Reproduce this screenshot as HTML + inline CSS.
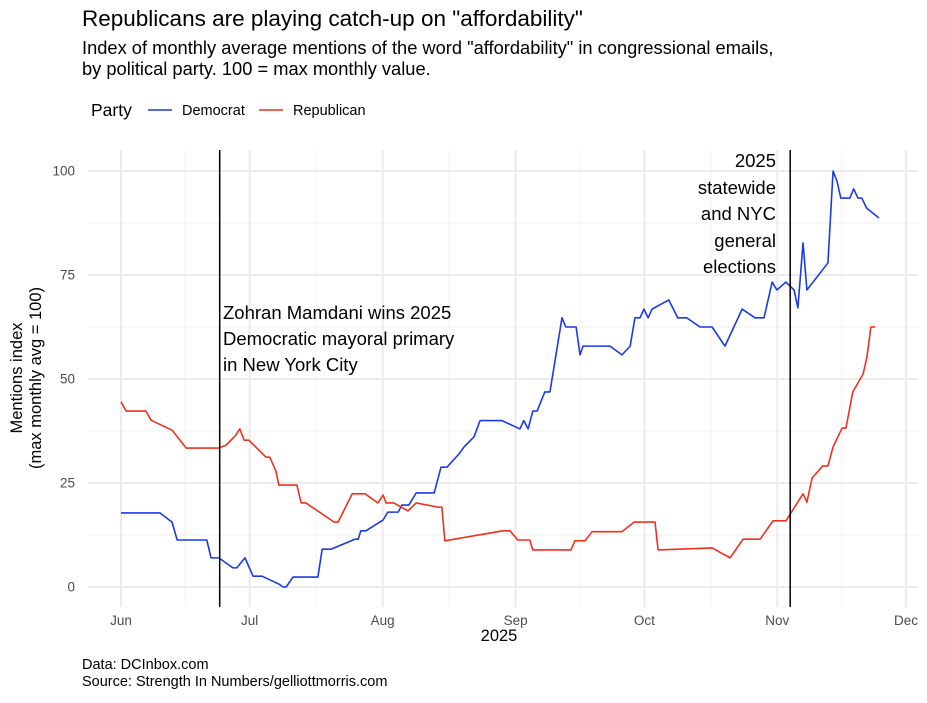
<!DOCTYPE html>
<html><head><meta charset="utf-8"><style>
body{margin:0;background:#fff;font-family:"Liberation Sans",sans-serif;}
</style></head><body>
<svg width="927" height="698" xmlns="http://www.w3.org/2000/svg" font-family="Liberation Sans, sans-serif">
<text x="82" y="26" font-size="22.5" fill="#000">Republicans are playing catch-up on "affordability"</text>
<text x="82" y="54" font-size="18.3" fill="#000">Index of monthly average mentions of the word "affordability" in congressional emails,</text>
<text x="82" y="75" font-size="18.3" fill="#000">by political party. 100 = max monthly value.</text>
<g>
<text x="91" y="116" font-size="17.5">Party</text>
<line x1="148" y1="110" x2="172" y2="110" stroke="#1a3ae8" stroke-width="1.5"/>
<text x="182" y="115" font-size="14.5">Democrat</text>
<line x1="259" y1="110" x2="283" y2="110" stroke="#f0301e" stroke-width="1.5"/>
<text x="293" y="115" font-size="14.5">Republican</text>
</g>
<g id="grid"></g>
<g id="ticks"></g>
<g id="series"></g>
<line x1="219.7" y1="150" x2="219.7" y2="607" stroke="#000" stroke-width="1.5"/>
<line x1="790.2" y1="150" x2="790.2" y2="607" stroke="#000" stroke-width="1.5"/>
<g font-size="18.5">
<text x="223" y="319">Zohran Mamdani wins 2025</text>
<text x="223" y="345">Democratic mayoral primary</text>
<text x="223" y="371">in New York City</text>
</g>
<g font-size="18.5" text-anchor="end">
<text x="776" y="167">2025</text>
<text x="776" y="194">statewide</text>
<text x="776" y="220">and NYC</text>
<text x="776" y="247">general</text>
<text x="776" y="273">elections</text>
</g>
<text x="499" y="641" font-size="16.5" text-anchor="middle">2025</text>
<text transform="translate(22,378) rotate(-90)" font-size="16.5" text-anchor="middle">Mentions index</text>
<text transform="translate(41,378) rotate(-90)" font-size="16.5" text-anchor="middle">(max monthly avg = 100)</text>
<text x="82" y="669" font-size="14.5">Data: DCInbox.com</text>
<text x="82" y="686" font-size="14.5">Source: Strength In Numbers/gelliottmorris.com</text>
</svg>
<script>
const monthLabels=["Jun","Jul","Aug","Sep","Oct","Nov","Dec"];
const monthDays=[0,30,61,92,122,153,183];
const yTicks=[0,25,50,75,100];
const demDays=[0,9.1,11.9,13.1,20.0,21.0,22.8,26.1,27.0,28.9,30.8,32.9,36.8,37.8,38.5,40.1,45.9,46.9,49.0,54.6,55.3,55.9,57.1,61.1,62.2,64.6,65.5,67.1,68.8,73.0,74.6,76.0,78.8,80.0,82.3,83.7,88.8,93.0,93.9,94.9,96.0,97.0,98.8,100.0,102.8,103.7,106.1,107.0,107.7,114.0,116.8,118.7,119.8,121.0,121.9,122.9,123.8,127.7,129.8,131.9,135.0,137.8,140.8,144.8,147.8,149.9,151.8,152.9,155.0,156.9,157.8,159.0,159.9,164.8,166.0,166.9,167.8,169.9,170.8,171.8,172.7,173.8,176.7];
const demVals=[17.8,17.8,15.6,11.3,11.3,7.0,7.0,4.6,4.6,7.0,2.6,2.6,0.7,0,0,2.4,2.4,9.1,9.1,11.5,11.5,13.5,13.5,16.1,18.0,18.0,19.7,19.7,22.6,22.6,28.8,28.8,32.0,33.7,36.1,40.0,40.0,38.0,40.0,38.0,42.3,42.3,46.9,46.9,64.7,62.5,62.5,55.8,57.9,57.9,55.8,57.9,64.7,64.7,66.8,64.7,66.8,69.0,64.7,64.7,62.5,62.5,57.9,66.8,64.7,64.7,73.3,71.4,73.3,71.4,67.1,82.7,71.4,77.9,100,97.6,93.5,93.5,95.7,93.5,93.5,91.1,88.7];
const repDays=[0,1.2,5.8,7.0,11.9,15.2,22.8,24.5,26.6,27.7,28.7,29.8,33.8,34.7,36.1,36.8,41.0,42.0,43.1,49.7,50.6,53.9,56.9,59.9,61.1,61.8,63.6,66.9,68.8,73.9,74.8,75.5,89.0,90.7,92.5,95.3,96.0,104.9,105.8,108.2,109.8,116.8,119.6,124.5,125.2,137.8,142.0,145.0,149.0,152.0,155.0,159.0,159.9,161.1,163.6,164.8,166.0,168.1,169.0,170.6,173.0,173.9,174.8,175.8];
const repVals=[44.5,42.3,42.3,40.1,37.7,33.4,33.4,34.1,36.3,38.0,35.3,35.3,31.2,31.2,27.9,24.5,24.5,20.2,20.2,15.6,15.6,22.4,22.4,20.2,22.1,20.2,20.2,18.3,20.2,19.2,19.2,11.1,13.5,13.5,11.3,11.3,8.9,8.9,11.1,11.1,13.3,13.3,15.6,15.6,8.9,9.4,7.0,11.5,11.5,15.9,15.9,22.4,20.4,26.2,29.1,29.1,33.7,38.2,38.2,46.9,51.2,55.3,62.5,62.5];
const NS="http://www.w3.org/2000/svg";
const X=d=>121+d*(785/183);
const Y=v=>587-v*4.16;
const grid=document.getElementById('grid'),ticks=document.getElementById('ticks'),series=document.getElementById('series');
function mk(tag,attrs,parent){const e=document.createElementNS(NS,tag);for(const k in attrs)e.setAttribute(k,attrs[k]);parent.appendChild(e);return e;}
for(let i=0;i<yTicks.length-1;i++){const v=(yTicks[i]+yTicks[i+1])/2;
const l=mk('line',{x1:88,x2:918,y1:Y(v),y2:Y(v),stroke:'#f2f2f2','stroke-width':1},grid);

}
for(let i=0;i<monthDays.length-1;i++){const d=(monthDays[i]+monthDays[i+1])/2;
const l=mk('line',{x1:X(d),x2:X(d),y1:150,y2:607,stroke:'#f2f2f2','stroke-width':1},grid);

}
yTicks.forEach(v=>{
const l=mk('line',{x1:88,x2:918,y1:Y(v),y2:Y(v),stroke:'#ebebeb','stroke-width':2},grid);


const t=mk('text',{x:75,y:Y(v)+4.5,'font-size':13.5,fill:'#4d4d4d','text-anchor':'end'},ticks);t.textContent=v;

});
monthDays.forEach((d,i)=>{
const l=mk('line',{x1:X(d),x2:X(d),y1:150,y2:607,stroke:'#ebebeb','stroke-width':2},grid);


const t=mk('text',{x:X(d),y:625,'font-size':13.5,fill:'#4d4d4d','text-anchor':'middle'},ticks);t.textContent=monthLabels[i];

});
function line(days,vals,color,name){
const p=mk('polyline',{points:days.map((d,i)=>X(d)+','+Y(vals[i])).join(' '),fill:'none',stroke:color,'stroke-width':1.6,'stroke-linejoin':'round'},series);

}
line(demDays,demVals,'#1a3ae8','democrat-line');
line(repDays,repVals,'#f0301e','republican-line');
</script>
</body></html>
